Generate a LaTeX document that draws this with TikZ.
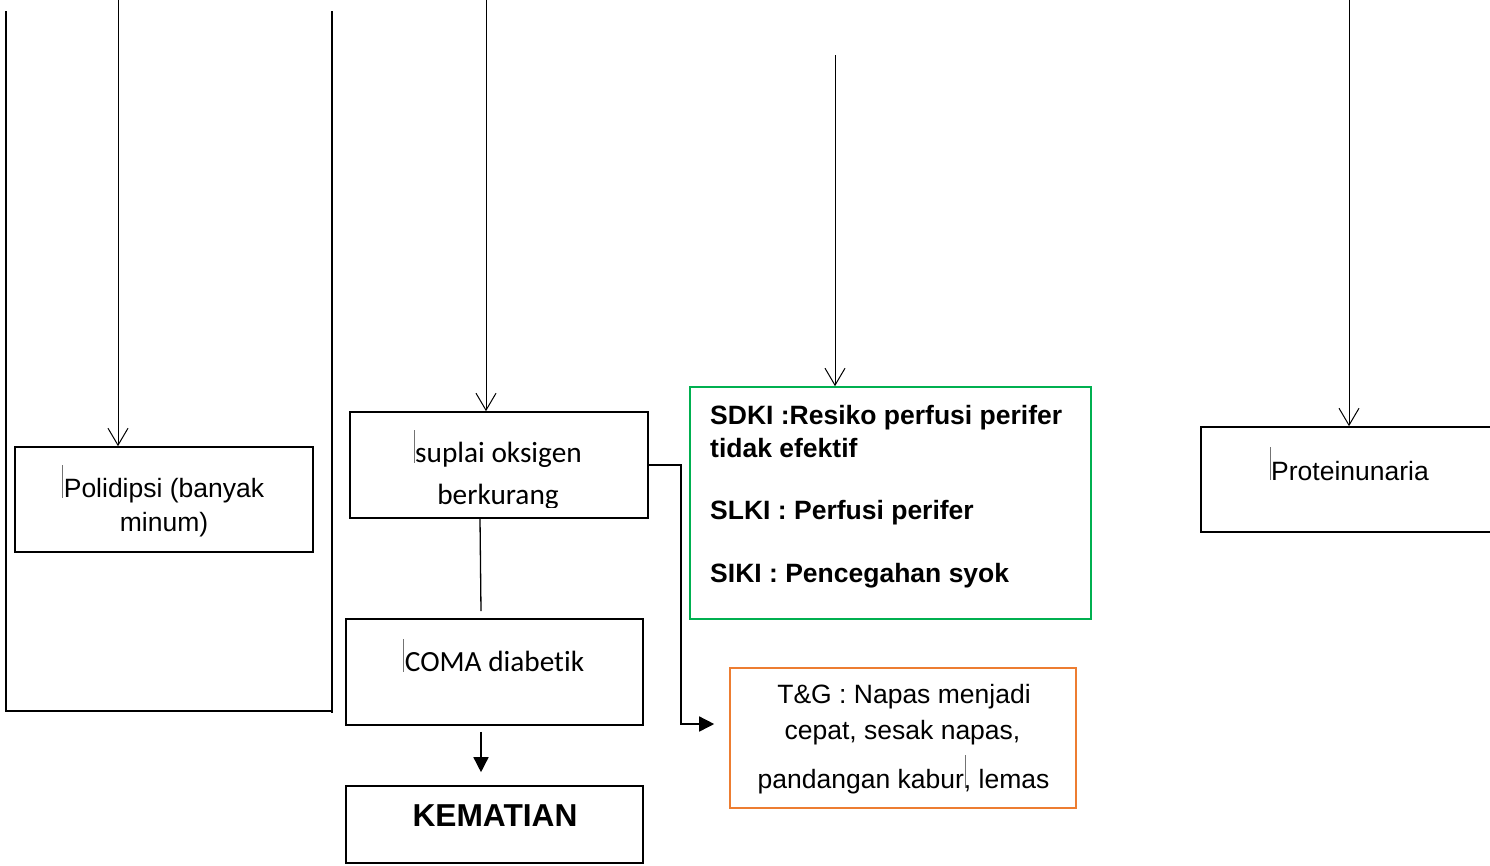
\documentclass[tikz,border=0pt]{standalone}
\usepackage{fontspec}
\setmainfont{Liberation Sans}
\newfontfamily\calibfont[Ligatures={NoCommon}]{Carlito}
\usetikzlibrary{arrows.meta}
% thin text-cursor mark
\newcommand\caretL{\makebox[0pt][r]{\textcolor{black!55}{\rule{0.9pt}{33pt}}\hspace{0.5pt}}}
\newcommand\caretR{\makebox[0pt][l]{\hspace{1pt}\textcolor{black!55}{\rule{0.9pt}{33pt}}}}
\definecolor{boxgreen}{RGB}{0,176,80}
\definecolor{boxorange}{RGB}{237,125,49}
\tikzset{
  box/.style={draw, rectangle, line width=1.6pt, inner sep=0pt},
  txt/.style={inner sep=0pt, anchor=base, font=\fontsize{26.5}{32}\selectfont},
  txtw/.style={txt, anchor=base west, font=\fontsize{26.5}{32}\selectfont\bfseries},
  ctxt/.style={inner sep=0pt, anchor=base, font=\fontsize{29.3}{34}\selectfont\calibfont},
  downarrow/.style={line width=1pt, -{Straight Barb[length=17pt,width=20pt,line width=1pt]}},
  solidarrow/.style={line width=1.5pt, -{Triangle[length=15pt,width=15pt]}},
  plainline/.style={line width=1.3pt},
}
\begin{document}
\begin{tikzpicture}[x=1pt,y=-1pt]
\useasboundingbox (0,0) rectangle (1490,865);

% boxes
\node[box, minimum width=298pt, minimum height=105pt] (poli) at (164,499.5) {};
\node[box, minimum width=298pt, minimum height=106pt] (supl) at (499,465) {};
\node[box, minimum width=297pt, minimum height=106pt] (coma) at (494.5,672) {};
\node[box, minimum width=297pt, minimum height=77pt] (kem) at (494.5,824.5) {};
\node[box, draw=boxgreen, minimum width=401pt, minimum height=232pt] (diag) at (890.5,503) {};
\node[box, draw=boxorange, minimum width=346pt, minimum height=140pt] (tg) at (903,738) {};
\node[box, minimum width=300pt, minimum height=105pt] (prot) at (1351,479.5) {};

% texts
\node[txt] (poliA) at (164,497.5) {\caretL Polidipsi (banyak};
\node[txt] (poliB) at (164,531.5) {minum)};
\begin{scope}
  \clip (350,412) rectangle (648,507);
  \node[ctxt] (suplA) at (498.5,462.5) {\caretL suplai oksigen};
  \node[ctxt] (suplB) at (498,504) {berkurang};
\end{scope}
\node[ctxt] (comaA) at (494.5,671.7) {\caretL COMA diabetik};
\node[txt, font=\fontsize{31.7}{36}\selectfont\bfseries] (kemA) at (495,826.7) {KEMATIAN};
\node[txtw] (dA) at (710,424) {SDKI :Resiko perfusi perifer};
\node[txtw] (dB) at (710,457.3) {tidak efektif};
\node[txtw] (dC) at (710,519.3) {SLKI : Perfusi perifer};
\node[txtw] (dD) at (710,582.3) {SIKI : Pencegahan syok};
\node[txt] (tgA) at (904,703.3) {T\&G : Napas menjadi};
\node[txt] (tgB) at (902.5,739) {cepat, sesak napas,};
\node[txt] (tgC) at (903.5,788.3) {pandangan kabur\caretR, lemas};
\node[txt] (protA) at (1350,480) {\caretL Proteinunaria};

% left bracket frame
\draw[line width=1.6pt] (6,11) -- (6,711) -- (332,711);
\draw[line width=1.6pt] (332,11) -- (332,713);

% incoming arrows from above
\coordinate (in1) at (118,0);
\coordinate (in2) at (486,0);
\coordinate (in3) at (835,55);
\coordinate (in4) at (1349,0);
\draw[downarrow] (in1) -- (in1 |- poli.north);
\draw[downarrow] (in2) -- (in2 |- supl.north);
\draw[downarrow] (in3) -- (in3 |- diag.north);
\draw[downarrow] (in4) -- (in4 |- prot.north);

% links between boxes
\draw[plainline] ([xshift=-19pt]supl.south) -- ([xshift=-13.5pt,yshift=7pt]coma.north);
\draw[solidarrow] ([xshift=-13.5pt,yshift=-6pt]coma.south) -- ([xshift=-13.5pt,yshift=13pt]kem.north);
\draw[solidarrow] (supl.east) -- ++(32,0) |- ([xshift=-15pt,yshift=14pt]tg.west);
\end{tikzpicture}
\end{document}
